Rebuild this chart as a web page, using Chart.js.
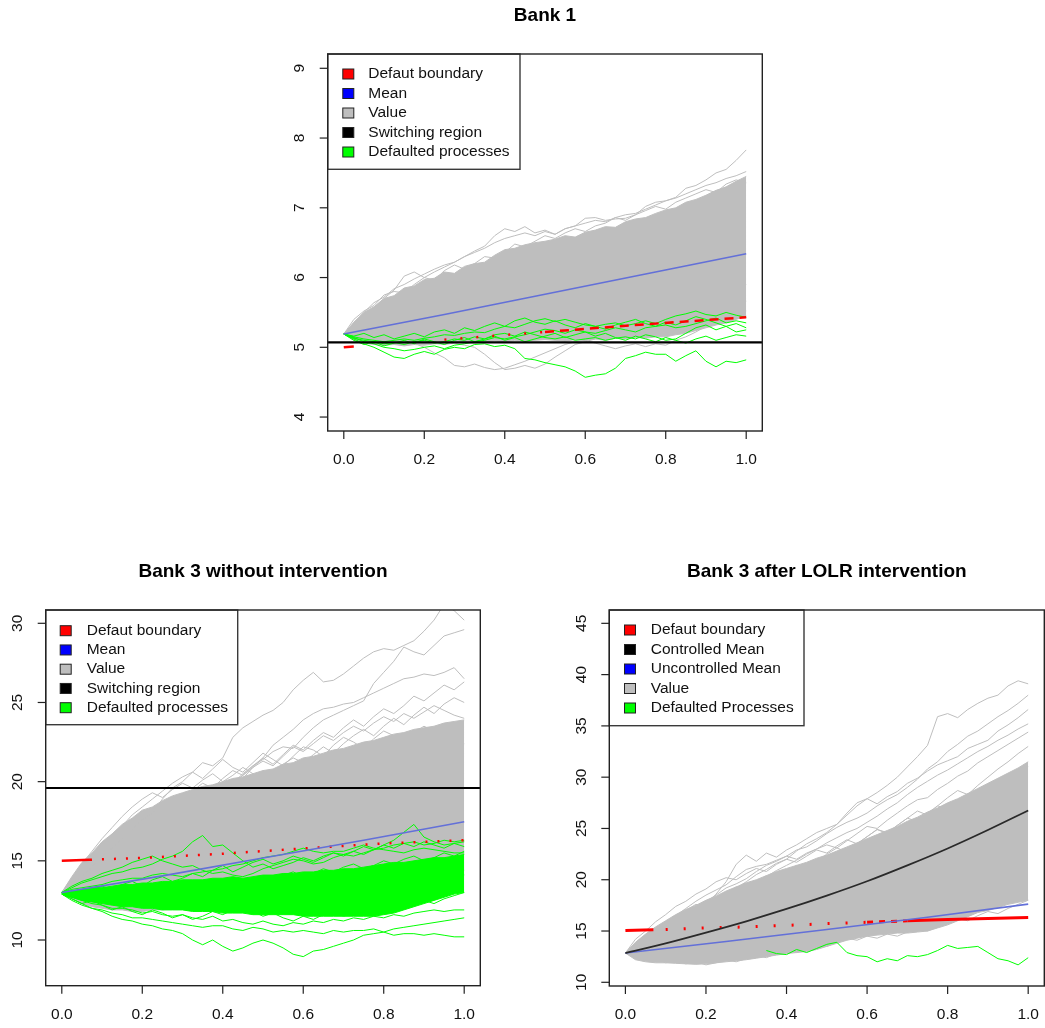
<!DOCTYPE html>
<html>
<head>
<meta charset="utf-8">
<title>Bank value simulations</title>
<script src="https://cdn.jsdelivr.net/npm/chart.js@4.4.1/dist/chart.umd.min.js"></script>
<style>
  html, body { margin: 0; padding: 0; background: #fff; }
  #wrap { position: relative; width: 1045px; height: 1028px; overflow: hidden; }
  #wrap canvas { position: absolute; left: 0; top: 0; }
</style>
</head>
<body>
<div id="wrap">
  <canvas id="bank1" width="1045" height="1028"></canvas>
  <canvas id="bank3a" width="1045" height="1028"></canvas>
  <canvas id="bank3b" width="1045" height="1028"></canvas>
</div>
<script>
// ---- time grids ----
const T = [0,0.025,0.05,0.075,0.1,0.125,0.15,0.175,0.2,0.225,0.25,0.275,0.3,0.325,0.35,0.375,0.4,0.425,0.45,0.475,0.5,0.525,0.55,0.575,0.6,0.625,0.65,0.675,0.7,0.725,0.75,0.775,0.8,0.825,0.85,0.875,0.9,0.925,0.95,0.975,1];
const T5 = [0,0.25,0.5,0.75,1];
const T7 = [0,0.07,0.2,0.4,0.6,0.8,1];
const T11 = [0,0.1,0.2,0.3,0.4,0.5,0.6,0.7,0.8,0.9,1];
const xTicks = [0,0.2,0.4,0.6,0.8,1];

// ---- Bank 1 ----
const b1YTicks = [4,5,6,7,8,9];
const b1GrayHigh = [5.19,5.36,5.50,5.58,5.70,5.74,5.85,5.88,5.97,5.99,6.08,6.06,6.16,6.20,6.22,6.32,6.40,6.42,6.47,6.50,6.52,6.55,6.60,6.58,6.65,6.68,6.73,6.72,6.80,6.84,6.86,6.92,6.97,7.00,7.08,7.12,7.18,7.25,7.30,7.38,7.45];
const b1GrayLow = [5.19,5.10,5.06,5.04,5.03,5.04,5.02,5.04,5.03,5.05,5.05,5.07,5.06,5.06,5.08,5.09,5.08,5.10,5.09,5.10,5.11,5.10,5.09,5.11,5.10,5.12,5.10,5.13,5.12,5.14,5.13,5.15,5.15,5.18,5.20,5.24,5.28,5.32,5.35,5.40,5.45];
const b1PathA = [5.19,5.30,5.42,5.55,5.70,5.82,6.02,6.08,6.00,6.08,6.15,6.22,6.30,6.38,6.45,6.60,6.70,6.66,6.73,6.64,6.68,6.62,6.70,6.74,6.85,6.86,6.82,6.84,6.85,6.90,7.02,7.08,7.10,7.15,7.28,7.32,7.40,7.50,7.55,7.68,7.83];
const b1PathB = [5.19,5.34,5.50,5.64,5.72,5.84,5.90,5.98,6.05,6.12,6.18,6.22,6.30,6.36,6.42,6.50,6.56,6.60,6.64,6.60,6.66,6.62,6.70,6.74,6.78,6.82,6.80,6.86,6.90,6.92,6.98,7.04,7.10,7.14,7.20,7.26,7.32,7.36,7.42,7.46,7.52];
const b1PathC = [5.19,5.12,5.10,5.08,5.10,5.05,5.07,5.06,5.00,4.92,4.85,4.74,4.72,4.76,4.71,4.68,4.70,4.75,4.80,4.86,4.92,4.98,5.04,5.08,5.10,5.06,5.02,4.98,5.02,5.05,5.01,5.05,5.03,5.10,5.15,5.22,5.30,5.36,5.42,5.46,5.52];
const b1PathD = [5.19,5.14,5.12,5.10,5.08,5.10,5.06,5.08,5.10,5.06,5.04,5.06,5.03,5.00,4.90,4.78,4.68,4.70,4.74,4.70,4.76,4.86,4.95,5.04,5.08,5.12,5.15,5.18,5.22,5.20,5.25,5.28,5.32,5.35,5.40,5.45,5.50,5.55,5.58,5.62,5.66];
const b1PathE = [5.19,5.40,5.52,5.60,5.75,5.80,5.78,5.90,6.00,5.96,6.10,6.18,6.12,6.20,6.30,6.28,6.36,6.48,6.44,6.52,6.60,6.56,6.64,6.70,6.66,6.74,6.78,6.86,6.82,6.90,6.96,7.02,6.98,7.08,7.14,7.20,7.26,7.22,7.34,7.40,7.36];
const b1PathF = [5.19,5.15,5.20,5.12,5.18,5.22,5.16,5.24,5.20,5.28,5.25,5.30,5.22,5.28,5.34,5.30,5.38,5.32,5.40,5.44,5.38,5.46,5.50,5.44,5.52,5.58,5.54,5.62,5.58,5.66,5.70,5.64,5.72,5.68,5.76,5.80,5.74,5.82,5.78,5.86,5.90];
const b1Def1 = [5.19,5.12,5.05,5.00,4.93,4.86,4.84,4.90,4.94,4.90,4.97,5.00,4.98,5.04,5.05,5.01,5.03,4.98,4.84,4.82,4.78,4.75,4.72,4.66,4.57,4.60,4.62,4.70,4.84,4.88,4.93,4.90,4.90,4.80,4.88,4.95,4.80,4.72,4.80,4.78,4.82];
const b1Def2 = [5.19,5.15,5.12,5.10,5.08,5.10,5.12,5.10,5.13,5.15,5.18,5.17,5.20,5.22,5.21,5.26,5.30,5.28,5.33,5.38,5.41,5.37,5.40,5.36,5.32,5.30,5.33,5.35,5.31,5.34,5.38,5.34,5.40,5.45,5.48,5.52,5.47,5.45,5.50,5.46,5.43];
const b1Def3 = [5.19,5.13,5.10,5.08,5.05,5.07,5.04,5.08,5.10,5.06,5.08,5.12,5.10,5.15,5.12,5.18,5.20,5.16,5.22,5.18,5.14,5.12,5.15,5.10,5.12,5.14,5.10,5.13,5.15,5.12,5.18,5.15,5.10,5.12,5.20,5.28,5.32,5.25,5.30,5.22,5.25];
const b1Def4 = [5.19,5.14,5.08,5.05,5.00,4.98,4.95,4.97,5.00,5.02,4.98,5.03,5.05,5.08,5.10,5.14,5.12,5.15,5.18,5.22,5.26,5.24,5.20,5.25,5.22,5.20,5.24,5.28,5.25,5.22,5.28,5.30,5.32,5.28,5.30,5.34,5.38,5.42,5.35,5.38,5.35];
const b1Def5 = [5.19,5.16,5.20,5.14,5.18,5.12,5.16,5.20,5.15,5.22,5.25,5.20,5.28,5.24,5.30,5.35,5.30,5.38,5.42,5.36,5.33,5.38,5.32,5.28,5.34,5.30,5.26,5.32,5.36,5.40,5.34,5.30,5.36,5.32,5.38,5.44,5.40,5.35,5.30,5.34,5.28];
const b1Def6 = [5.19,5.10,5.04,5.08,5.02,5.06,5.10,5.05,5.12,5.08,5.04,5.10,5.14,5.08,5.12,5.16,5.10,5.14,5.08,5.12,5.16,5.20,5.14,5.18,5.22,5.16,5.20,5.14,5.10,5.16,5.12,5.08,5.14,5.10,5.06,5.12,5.16,5.10,5.14,5.18,5.16];
const b1Mean = [5.19,5.47,5.76,6.05,6.34];
const b1Boundary = [5.0,5.11,5.22,5.33,5.43];
const b1Switch = 5.07;

// ---- Bank 3 without intervention ----
const b2YTicks = [10,15,20,25,30];
const b2GrayHigh = [13.0,14.0,14.9,15.5,16.2,16.7,17.3,17.7,18.2,18.4,18.8,19.1,19.3,19.5,19.7,19.8,20.0,20.2,20.3,20.5,20.7,20.8,21.1,21.2,21.5,21.6,21.8,22.0,22.1,22.3,22.5,22.6,22.8,23.0,23.1,23.3,23.4,23.5,23.7,23.8,23.9];
const b2GrayLow = [13.0,12.6,12.3,12.1,12.0,11.9,11.9,11.8,11.8,11.9,11.9,12.0,12.0,12.1,12.1,12.2,12.2,12.3,12.4,12.4,12.5,12.6,12.7,12.8,12.8,12.9,13.0,13.1,13.2,13.3,13.4,13.5,13.6,13.7,13.8,13.9,14.0,14.1,14.2,14.3,14.4];
const b2Path1 = [13.0,13.5,14.0,14.6,15.3,15.8,16.4,17.0,17.6,18.0,18.9,19.6,20.0,20.6,21.2,21.0,21.5,22.8,23.4,23.8,24.2,24.5,25.0,25.8,26.4,26.9,26.3,26.4,26.8,27.3,27.8,28.2,28.4,28.3,28.6,28.9,29.5,30.2,31.2,30.8,30.2];
const b2Path2 = [13.0,13.3,13.6,14.0,14.3,14.8,15.2,15.5,15.9,16.3,16.8,17.1,17.5,17.9,18.3,18.8,19.4,19.9,20.5,21.0,21.4,21.9,22.2,22.1,22.8,23.4,23.9,24.2,24.5,24.8,25.1,26.2,26.9,27.6,28.5,28.2,28.0,28.6,29.2,29.4,29.6];
const b2Path3 = [13.0,13.2,13.5,13.9,14.2,14.5,14.9,15.3,15.6,16.0,16.5,16.9,17.3,17.8,18.1,18.5,19.0,19.6,20.2,20.9,21.5,22.3,22.8,23.3,23.9,24.3,24.6,24.7,24.9,25.0,25.3,25.6,25.9,26.2,26.5,26.6,26.8,26.7,26.9,27.2,26.5];
const b2Path4 = [13.0,13.4,13.9,14.5,15.0,15.4,15.9,16.4,16.8,17.2,17.5,17.9,18.3,18.0,18.6,19.0,19.5,19.9,20.4,20.9,21.3,21.0,21.6,22.2,21.9,22.4,22.9,22.6,23.1,23.5,23.2,23.7,24.1,23.8,24.3,24.0,24.4,24.8,24.5,24.2,24.0];
const b2Path5 = [13.0,13.8,14.6,15.3,16.0,16.7,17.2,17.9,18.4,18.9,19.4,19.9,20.3,20.6,20.2,20.8,21.4,20.9,20.6,21.2,21.8,21.4,21.0,21.6,22.2,22.0,21.6,22.3,22.8,22.5,22.1,22.7,23.2,22.9,22.6,23.1,23.5,23.2,23.0,22.7,22.4];
const b2Path6 = [13.0,13.6,14.3,14.9,15.6,16.0,16.6,17.1,17.6,18.2,18.6,18.3,18.9,19.4,19.9,19.6,20.2,20.7,20.4,21.0,21.5,21.1,21.7,22.3,22.0,22.6,23.1,22.8,23.4,23.9,23.5,24.1,24.6,24.3,24.8,25.4,25.1,25.6,26.1,25.8,26.3];
const b2Path7 = [13.0,13.9,14.8,15.6,16.4,17.1,17.8,18.4,18.9,19.3,19.0,19.5,19.9,19.6,20.1,20.5,20.0,20.4,20.9,20.5,20.1,20.6,21.1,21.5,21.2,21.7,22.2,21.8,22.4,22.9,23.3,22.9,23.5,24.0,23.6,24.2,24.7,24.3,24.9,25.3,25.0];
const b2DefHigh = [13.0,13.1,13.2,13.3,13.3,13.4,13.5,13.5,13.6,13.6,13.7,13.7,13.8,13.8,13.8,13.9,13.9,14.0,13.9,14.0,14.1,14.1,14.2,14.2,14.3,14.3,14.4,14.4,14.5,14.5,14.6,14.7,14.8,14.9,14.9,15.0,15.1,15.2,15.2,15.3,15.4];
const b2DefLow = [12.9,12.7,12.5,12.4,12.3,12.2,12.1,12.1,12.0,12.0,11.9,11.9,11.9,11.8,11.8,11.8,11.7,11.7,11.7,11.6,11.6,11.6,11.6,11.6,11.5,11.5,11.5,11.5,11.5,11.5,11.5,11.5,11.6,11.7,11.9,12.1,12.3,12.5,12.7,12.9,13.0];
const b2DefLow1 = [12.9,12.6,12.3,12.0,11.8,11.5,11.3,11.2,11.0,10.9,10.7,10.6,10.4,10.0,9.7,10.0,9.6,9.3,9.5,9.8,10.0,9.8,9.5,9.1,8.95,9.3,9.4,9.6,9.8,10.0,10.3,10.4,10.5,10.3,10.4,10.4,10.3,10.4,10.3,10.2,10.2];
const b2DefLow2 = [12.9,12.5,12.2,12.0,11.9,11.7,11.6,11.4,11.4,11.3,11.2,11.1,11.0,10.9,10.8,10.9,10.9,10.7,10.6,10.8,10.7,10.5,10.6,10.5,10.6,10.5,10.4,10.6,10.5,10.6,10.6,10.7,10.5,10.7,10.8,10.9,11.0,11.1,11.2,11.3,11.4];
const b2DefLow3 = [12.9,12.7,12.5,12.3,12.2,12.0,12.0,11.9,11.7,11.8,11.6,11.5,11.6,11.4,11.3,11.5,11.2,11.3,11.1,11.0,11.2,11.0,10.9,11.1,11.0,11.2,11.1,11.3,11.2,11.4,11.3,11.5,11.4,11.6,11.5,11.7,11.8,11.9,11.8,11.9,11.9];
const b2DefMid1 = [13.0,13.1,12.9,13.2,13.4,13.2,13.5,13.7,13.4,13.8,14.0,13.7,13.9,14.2,14.0,14.4,14.7,14.3,14.6,14.9,15.1,14.8,15.0,15.3,15.1,14.9,15.2,15.5,15.3,15.6,15.4,15.7,16.0,15.8,16.1,15.9,16.2,16.0,15.8,16.1,15.9];
const b2DefMid2 = [12.9,12.7,12.9,12.6,12.8,12.5,12.7,12.4,12.6,12.3,12.5,12.8,12.6,12.4,12.7,12.5,12.2,12.4,12.1,12.3,12.6,12.4,12.2,12.5,12.8,12.6,12.9,12.7,13.0,12.8,13.1,13.4,13.2,13.5,13.3,13.6,13.9,13.7,14.0,13.8,14.1];
const b2DefMid3 = [12.9,12.6,12.3,12.5,12.2,11.9,12.1,11.8,11.6,11.9,11.7,11.4,11.6,11.3,11.5,11.8,11.6,11.9,12.1,11.8,11.5,11.7,11.4,11.2,11.5,11.3,11.6,11.8,11.5,11.7,12.0,11.8,12.1,12.3,12.0,12.2,12.5,12.3,12.6,12.8,13.0];
const b2DefMid4 = [13.0,12.8,13.0,12.7,12.9,13.1,12.8,13.0,13.3,13.1,12.9,13.2,13.4,13.1,13.3,13.6,13.4,13.7,13.5,13.8,14.0,13.8,14.1,14.3,14.0,14.2,14.5,14.3,14.6,14.8,14.5,14.7,15.0,14.8,15.1,15.3,15.0,15.2,15.5,15.3,15.6];
const b2DefUp1 = [13.0,13.3,13.6,13.8,14.0,14.2,14.3,14.5,14.6,14.8,15.1,15.3,15.6,16.2,16.6,15.9,16.0,15.5,15.0,14.6,14.8,14.5,14.7,14.9,15.2,15.0,15.3,15.5,15.4,15.6,15.9,15.7,16.0,16.3,16.8,17.3,16.5,16.2,16.0,16.1,16.2];
const b2DefUp2 = [13.0,13.2,13.3,13.4,13.5,13.7,13.8,13.9,13.9,14.1,14.2,14.1,14.0,14.2,14.3,14.4,14.5,14.7,14.8,15.0,15.2,15.3,15.4,15.6,15.8,15.6,15.5,15.6,15.6,15.8,16.0,15.8,15.7,15.6,15.5,15.7,15.8,15.7,15.6,15.5,15.5];
const b2DefUp3 = [13.0,13.4,13.7,13.9,14.2,14.4,14.6,14.9,15.1,15.3,15.0,14.8,14.6,14.7,14.4,14.2,14.3,14.1,14.0,14.2,14.5,14.7,14.9,15.1,15.0,14.8,14.9,15.2,15.4,15.3,15.5,15.7,15.8,16.0,16.1,16.2,16.0,16.1,16.3,16.2,16.3];
const b2Mean = [13.0,14.05,15.18,16.3,17.47];
const b2Boundary = [15.0,15.07,15.18,15.45,15.78,16.1,16.3];
const b2Switch = 19.6;

// ---- Bank 3 after LOLR intervention ----
const b3YTicks = [10,15,20,25,30,35,40,45];
const b3GrayHigh = [12.85,13.9,14.7,15.4,16.0,16.6,17.1,17.5,18.0,18.4,18.9,19.3,19.7,20.0,20.4,20.8,21.1,21.4,21.7,22.1,22.4,22.8,23.2,23.6,24.0,24.4,24.8,25.2,25.7,26.1,26.6,27.0,27.5,27.9,28.4,28.9,29.4,29.9,30.4,30.9,31.5];
const b3GrayLow = [12.85,12.2,12.0,11.9,11.9,11.85,11.8,11.75,11.8,11.9,12.0,12.1,12.2,12.35,12.5,12.65,12.8,12.9,13.0,13.2,13.5,13.8,14.1,14.3,14.5,14.6,14.7,14.8,14.8,14.9,15.0,15.3,15.6,16.0,16.4,16.8,17.0,17.3,17.6,17.8,18.0];
const b3Path1 = [12.85,13.3,13.9,14.5,15.0,15.6,16.2,16.8,17.3,17.9,18.6,19.2,19.8,20.5,21.0,21.6,22.0,22.8,23.5,24.0,24.6,25.4,26.3,27.2,27.9,28.5,29.2,30.0,31.0,32.0,33.1,35.9,36.2,35.8,36.6,37.2,37.7,38.0,38.9,39.4,39.1];
const b3Path2 = [12.85,13.5,14.2,14.8,15.6,16.1,16.6,17.4,17.9,18.5,19.2,19.6,20.1,20.8,21.4,21.8,22.3,22.9,23.2,23.8,24.5,25.1,25.6,26.0,26.5,27.2,27.8,28.3,29.0,29.8,30.8,31.5,32.5,33.2,34.0,34.5,35.2,35.9,36.5,37.2,38.0];
const b3Path3 = [12.85,13.2,13.8,14.2,14.6,15.3,16.0,16.8,17.5,18.6,19.8,21.5,22.4,21.8,22.6,22.2,22.9,23.4,24.0,24.6,25.0,25.4,26.5,27.5,27.9,27.4,28.1,28.6,29.4,29.9,30.6,31.2,31.6,32.0,32.8,33.2,33.6,34.5,35.1,35.8,36.6];
const b3Path4 = [12.85,13.6,14.3,15.1,15.8,16.5,17.2,17.9,18.5,19.0,19.5,20.3,21.0,21.3,21.5,21.9,22.3,22.0,22.6,23.0,23.4,23.1,23.8,24.5,25.2,25.0,25.8,26.5,27.2,27.8,28.0,28.8,29.4,30.1,30.6,31.4,32.0,32.6,33.2,33.8,34.4];
const b3Path5 = [12.85,13.4,13.9,14.6,15.2,15.7,16.3,16.9,17.3,17.8,18.3,18.9,19.4,19.9,20.3,20.9,21.4,21.9,22.5,23.0,23.6,24.1,24.6,25.0,25.6,26.2,26.9,27.5,28.3,29.0,29.6,30.2,30.7,31.3,31.9,32.5,33.0,33.6,34.1,34.7,35.2];
const b3Path6 = [12.85,14.2,15.0,15.9,16.6,17.4,17.9,18.6,19.1,19.8,20.2,20.0,20.6,21.1,20.8,21.5,22.0,21.7,22.3,22.9,22.6,23.3,23.9,23.5,24.2,24.9,24.6,25.3,26.0,25.7,26.5,27.2,26.9,27.6,28.4,28.1,28.9,29.6,29.3,30.2,31.0];
const b3Path7 = [12.85,13.7,14.5,15.2,15.9,16.3,17.0,17.6,17.3,18.0,18.7,19.3,19.0,19.7,20.4,20.1,20.8,21.4,21.1,21.8,22.5,23.1,22.7,23.5,24.2,24.9,24.5,25.3,26.0,26.7,26.3,27.2,28.0,28.7,28.3,29.2,30.0,30.8,31.5,32.3,33.0];
const b3Path8 = [12.85,12.4,12.1,12.3,11.9,12.1,11.8,12.0,11.7,11.9,12.2,12.0,12.3,12.6,12.4,12.8,13.1,12.9,13.3,13.7,13.5,13.9,14.3,14.1,14.5,14.3,14.7,14.5,14.9,15.2,15.0,15.4,15.8,16.2,16.0,16.5,16.9,16.7,17.2,17.6,18.0];
const b3Defaulted = [null,null,null,null,null,null,null,null,null,null,null,null,null,null,13.1,12.8,12.7,13.2,12.9,13.3,13.7,13.9,12.9,12.6,12.5,12.0,12.3,12.1,12.6,12.5,12.7,13.1,13.6,13.3,13.4,13.5,12.9,12.3,12.1,11.7,12.4];
const b3CtrlMean = [12.85,13.8,14.85,15.95,17.15,18.45,19.85,21.4,23.05,24.85,26.75];
const b3UncMean = [12.85,13.98,15.15,16.35,17.62];
const b3Boundary = [15.05,15.15,15.3,15.4,15.55,15.72,15.85,16.0,16.12,16.22,16.32];

// ---- colours ----
const GRAY = '#BEBEBE';
const GREEN = '#00FF00';
const RED = '#FF0000';
const MEAN_BLUE = '#6370d8';
const FONT = '"Liberation Sans", Arial, Helvetica, sans-serif';

function series(xs, ys, color, width, extra) {
  const data = xs.map((x, i) => ({ x: x, y: ys[i] })).filter(p => p.y !== null);
  return Object.assign({
    data: data, borderColor: color, backgroundColor: color,
    borderWidth: width, pointRadius: 0, fill: false, tension: 0
  }, extra || {});
}
function hline(value, color, width) {
  return series([-0.04, 1.04], [value, value], color, width);
}
function band(xs, hi, lo, color) {
  return [series(xs, hi, color, 1, { fill: '+1', backgroundColor: color }), series(xs, lo, color, 1)];
}
function lines(xs, list, color) {
  return list.map(ys => series(xs, ys, color, 1));
}
// datasets are listed bottom layer first
function layered(list) {
  list.forEach((d, i) => { d.order = list.length - i; });
  return list;
}

function decorations(cfg) {
  return {
    id: 'decorations',
    afterDraw(chart) {
      const ctx = chart.ctx, a = chart.chartArea, xs = chart.scales.x, ys = chart.scales.y;
      ctx.save();
      // legend
      const lg = cfg.legend;
      ctx.fillStyle = '#fff';
      ctx.fillRect(a.left, a.top, lg.w, lg.h);
      ctx.strokeStyle = '#3a3a3a';
      ctx.lineWidth = 1.4;
      ctx.strokeRect(a.left, a.top, lg.w, lg.h);
      ctx.font = '15.5px ' + FONT;
      ctx.textBaseline = 'middle';
      ctx.textAlign = 'left';
      lg.labels.forEach((label, i) => {
        const cy = a.top + lg.first + i * lg.step;
        const mx = a.left + lg.mx;
        ctx.fillStyle = lg.colors[i];
        ctx.fillRect(mx - 5.5, cy - 5, 11, 10);
        ctx.strokeStyle = '#222';
        ctx.lineWidth = 1;
        ctx.strokeRect(mx - 5.5, cy - 5, 11, 10);
        ctx.fillStyle = '#111';
        ctx.fillText(label, a.left + lg.tx, cy);
      });
      // plot frame
      ctx.strokeStyle = '#222';
      ctx.lineWidth = 1.4;
      ctx.strokeRect(a.left, a.top, a.right - a.left, a.bottom - a.top);
      // x axis
      ctx.fillStyle = '#111';
      ctx.textAlign = 'center';
      ctx.lineWidth = 1.2;
      xTicks.forEach(v => {
        const px = xs.getPixelForValue(v);
        ctx.beginPath(); ctx.moveTo(px, a.bottom); ctx.lineTo(px, a.bottom + 8); ctx.stroke();
        ctx.fillText(v.toFixed(1), px, a.bottom + 29);
      });
      // y axis, labels turned like R's default
      cfg.yTicks.forEach(v => {
        const py = ys.getPixelForValue(v);
        ctx.beginPath(); ctx.moveTo(a.left, py); ctx.lineTo(a.left - 8, py); ctx.stroke();
        ctx.save();
        ctx.translate(a.left - 27.5, py);
        ctx.rotate(-Math.PI / 2);
        ctx.fillText(String(v), 0, 0);
        ctx.restore();
      });
      // title
      ctx.font = 'bold 19px ' + FONT;
      ctx.fillStyle = '#000';
      ctx.fillText(cfg.title, (a.left + a.right) / 2, a.top - 37.8);
      ctx.restore();
    }
  };
}

function makeChart(id, box, yRange, datasets, cfg) {
  return new Chart(document.getElementById(id), {
    type: 'line',
    data: { datasets: datasets },
    options: {
      responsive: false,
      animation: false,
      devicePixelRatio: 1,
      events: [],
      layout: { padding: { left: box.left, top: box.top, right: 1045 - box.right, bottom: 1028 - box.bottom } },
      plugins: { legend: { display: false }, tooltip: { enabled: false }, colors: { enabled: false } },
      scales: {
        x: { type: 'linear', min: -0.04, max: 1.04, display: false },
        y: { type: 'linear', min: yRange[0], max: yRange[1], display: false }
      },
      elements: { point: { radius: 0 } }
    },
    plugins: [decorations(cfg)]
  });
}

// ---- Bank 1 ----
makeChart('bank1', { left: 327.7, top: 54, right: 762.3, bottom: 431 }, [3.8, 9.205], layered([
  ...band(T, b1GrayHigh, b1GrayLow, GRAY),
  ...lines(T, [b1PathA, b1PathB, b1PathC, b1PathD, b1PathE, b1PathF], GRAY),
  ...lines(T, [b1Def6, b1Def5, b1Def4, b1Def3, b1Def2, b1Def1], GREEN),
  series(T5, b1Boundary, RED, 2.5, { segment: { borderDash: c => [[10, 400], [2, 14], [9, 6], [9, 6]][c.p0DataIndex] } }),
  series(T5, b1Mean, MEAN_BLUE, 1.6),
  hline(b1Switch, '#000', 2.2)
]), {
  title: 'Bank 1', yTicks: b1YTicks,
  legend: { w: 192.3, h: 115.3, first: 20, step: 19.5, mx: 20.6, tx: 40.6,
    labels: ['Defaut boundary', 'Mean', 'Value', 'Switching region', 'Defaulted processes'],
    colors: [RED, '#0000FF', GRAY, '#000000', GREEN] }
});

// ---- Bank 3 without intervention ----
makeChart('bank3a', { left: 45.7, top: 610, right: 480.3, bottom: 985.7 }, [7.114, 30.84], layered([
  ...band(T, b2GrayHigh, b2GrayLow, GRAY),
  ...lines(T, [b2Path1, b2Path2, b2Path3, b2Path4, b2Path5, b2Path6, b2Path7], GRAY),
  ...band(T, b2DefHigh, b2DefLow, GREEN),
  ...lines(T, [b2DefLow1, b2DefLow2, b2DefLow3, b2DefMid1, b2DefMid2, b2DefMid3, b2DefMid4, b2DefUp1, b2DefUp2, b2DefUp3], GREEN),
  series(T7, b2Boundary, RED, 2.5, { segment: { borderDash: c => (c.p0DataIndex === 0 ? [] : [2, 10]) } }),
  series(T5, b2Mean, MEAN_BLUE, 1.6),
  hline(b2Switch, '#000', 2.2)
]), {
  title: 'Bank 3 without intervention', yTicks: b2YTicks,
  legend: { w: 192, h: 114.7, first: 20.7, step: 19.25, mx: 20, tx: 41,
    labels: ['Defaut boundary', 'Mean', 'Value', 'Switching region', 'Defaulted processes'],
    colors: [RED, '#0000FF', GRAY, '#000000', GREEN] }
});

// ---- Bank 3 after LOLR intervention ----
makeChart('bank3b', { left: 609.3, top: 610, right: 1044.3, bottom: 986 }, [9.639, 46.3], layered([
  ...band(T, b3GrayHigh, b3GrayLow, GRAY),
  ...lines(T, [b3Path1, b3Path2, b3Path3, b3Path4, b3Path5, b3Path6, b3Path7, b3Path8], GRAY),
  series(T, b3Defaulted, GREEN, 1),
  series(T11, b3Boundary, RED, 3, { segment: { borderDash: c => {
    const i = c.p0DataIndex;
    if (i === 0) return [28, 200];
    if (i <= 5) return [2, 16];
    if (i === 6) return [6, 6];
    return [];
  } } }),
  series(T5, b3UncMean, MEAN_BLUE, 1.6),
  series(T11, b3CtrlMean, '#2a2a2a', 1.8, { cubicInterpolationMode: 'monotone' })
]), {
  title: 'Bank 3 after LOLR intervention', yTicks: b3YTicks,
  legend: { w: 194.7, h: 115.7, first: 20, step: 19.5, mx: 20.7, tx: 41.4,
    labels: ['Defaut boundary', 'Controlled Mean', 'Uncontrolled Mean', 'Value', 'Defaulted Processes'],
    colors: [RED, '#000000', '#0000FF', GRAY, GREEN] }
});
</script>
</body>
</html>
